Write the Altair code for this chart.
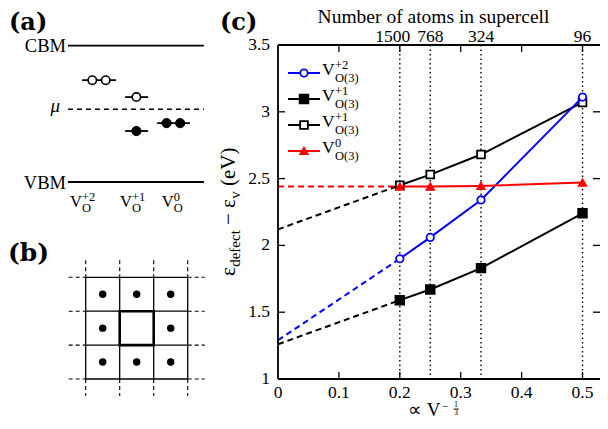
import altair as alt
import pandas as pd

FONT = "Liberation Serif"
BOLD_FONT = "DejaVu Serif"

# ---------------- panel (c) data ----------------
x_cells = [0.2, 0.25, 1 / 3, 0.5]
atoms = ["1500", "768", "324", "96"]
e_v2 = [1.90, 2.06, 2.34, 3.11]
e_v1_filled = [1.59, 1.67, 1.83, 2.24]
e_v1_open = [2.45, 2.53, 2.68, 3.07]
e_v0 = [2.44, 2.44, 2.445, 2.47]
# extrapolated values at infinite supercell (x = 0)
e0_v2 = 1.29
e0_v1_filled = 1.26
e0_v1_open = 2.12
e0_v0 = 2.44

x_ticks = [0, 0.1, 0.2, 0.3, 0.4, 0.5]
x_tick_labels = ["0", "0.1", "0.2", "0.3", "0.4", "0.5"]
y_ticks = [1, 1.5, 2, 2.5, 3, 3.5]
y_tick_labels = ["1", "1.5", "2", "2.5", "3", "3.5"]
XMAX = 0.5287
YMIN, YMAX = 1.0, 3.5

# ---------------- panel (a) data ----------------
band_e = [1.0, 0.0]
mu_e = 0.533
lvl_x1 = [-0.44, 0.70, 0.70, 1.55]
lvl_x2 = [0.46, 1.31, 1.31, 2.42]
lvl_e = [0.747, 0.623, 0.374, 0.432]
circ_x = [-0.17, 0.186, 1.0, 1.0, 1.80, 2.16]
circ_e = [0.747, 0.747, 0.623, 0.374, 0.432, 0.432]
circ_filled = [False, False, False, True, True, True]
col_sup = ["+2", "+1", "0"]

# ---------------- panel (b) data ----------------
grid_idx = [0, 1, 2, 3]

# ---------------- scales ----------------
xs = alt.Scale(domain=[0, XMAX], nice=False, zero=False)
ys = alt.Scale(domain=[YMIN, YMAX], nice=False, zero=False)


def X(f="x"):
    return alt.X(f"{f}:Q", scale=xs, axis=None)


def Y(f="y"):
    return alt.Y(f"{f}:Q", scale=ys, axis=None)


def T(s, x, y, size=17.5, align="left", angle=0, dx=0, dy=0, weight="normal",
      style="normal", font=FONT, baseline="alphabetic"):
    return alt.Chart(pd.DataFrame({"t": [s]})).mark_text(
        font=font, fontSize=size, align=align, baseline=baseline, angle=angle, dx=dx, dy=dy,
        fontWeight=weight, fontStyle=style, color="black"
    ).encode(text="t:N", x=alt.value(x), y=alt.value(y))


def series(ys_, y0, color, shape, filled, size):
    df = pd.DataFrame({"x": x_cells, "y": ys_})
    dfd = pd.DataFrame({"x": [0.0, x_cells[0]], "y": [y0, ys_[0]]})
    dash = alt.Chart(dfd).mark_line(color=color, strokeWidth=2, strokeDash=[6, 4]).encode(X(), Y())
    line = alt.Chart(df).mark_line(color=color, strokeWidth=2).encode(X(), Y())
    pts = alt.Chart(df).mark_point(shape=shape, filled=True, fill=color if filled else "white",
                                   stroke=color, strokeWidth=1.8, size=size, opacity=1).encode(X(), Y())
    return [dash, line, pts]


layers_c = []
# dotted vertical lines
layers_c.append(alt.Chart(pd.DataFrame({"x": x_cells})).mark_rule(
    color="black", strokeWidth=1.4, strokeDash=[1.5, 3]).encode(X()))
layers_c += series(e_v1_open, e0_v1_open, "black", "square", False, 60)
layers_c += series(e_v1_filled, e0_v1_filled, "black", "square", True, 75)
layers_c += series(e_v2, e0_v2, "#0000ff", "circle", False, 55)
layers_c += series(e_v0, e0_v0, "#ff0000", "triangle-up", True, 55)

# frame (left, bottom, top; the right side lies beyond the picture edge)
frame_v = pd.DataFrame({"x": [0.0], "y": [YMIN], "y2": [YMAX]})
frame_h = pd.DataFrame({"x": [0.0, 0.0], "x2": [XMAX, XMAX], "y": [YMIN, YMAX]})
layers_c.append(alt.Chart(frame_v).mark_rule(color="black", strokeWidth=1.8).encode(X(), Y(), y2="y2:Q"))
layers_c.append(alt.Chart(frame_h).mark_rule(color="black", strokeWidth=1.8).encode(X(), Y(), x2="x2:Q"))

# inward ticks
tick_x = pd.DataFrame({"x": x_ticks[1:] * 2, "y": [YMIN] * 5 + [YMAX] * 5})
tick_y = pd.DataFrame({"x": [0.0] * 4 + [XMAX] * 4, "y": y_ticks[1:-1] * 2})
layers_c.append(alt.Chart(tick_x).mark_tick(orient="vertical", size=14, thickness=1.3,
                                            color="black", clip=True, opacity=1).encode(X(), Y()))
layers_c.append(alt.Chart(tick_y).mark_tick(orient="horizontal", size=14, thickness=1.3,
                                            color="black", clip=True, opacity=1).encode(X(), Y()))

# tick labels (bottom and left), placed through the scales
xl = pd.DataFrame({"x": x_ticks, "t": x_tick_labels})
yl = pd.DataFrame({"y": y_ticks, "t": y_tick_labels})
layers_c.append(alt.Chart(xl).mark_text(font=FONT, fontSize=17.5, baseline="alphabetic",
                                        color="black").encode(X(), y=alt.value(353), text="t:N"))
layers_c.append(alt.Chart(yl).mark_text(font=FONT, fontSize=17.5, baseline="middle", align="right",
                                        color="black", dx=-8).encode(Y(), x=alt.value(0), text="t:N"))

# top axis labels
top_df = pd.DataFrame({"x": x_cells, "t": atoms})
layers_c.append(alt.Chart(top_df).transform_filter("datum.t != '1500'").mark_text(
    font=FONT, fontSize=17.5, baseline="alphabetic", color="black").encode(
    X(), y=alt.value(-3.5), text="t:N"))
layers_c.append(alt.Chart(top_df).transform_filter("datum.t == '1500'").mark_text(
    font=FONT, fontSize=17.5, baseline="alphabetic", color="black", dx=-7).encode(
    X(), y=alt.value(-3.5), text="t:N"))
layers_c.append(T("Number of atoms in supercell", 155.5, -22.5, size=19.5, align="center"))

# legend
leg = [("#0000ff", "circle", False, 55, "+2"), ("black", "square", True, 75, "+1"),
       ("black", "square", False, 60, "+1"), ("#ff0000", "triangle-up", True, 55, "0")]
for i, (c, shp, fl, sz, sup) in enumerate(leg):
    ly = 28 + 26 * i
    layers_c.append(alt.Chart(pd.DataFrame({"a": [0]})).mark_rule(color=c, strokeWidth=2).encode(
        x=alt.value(10), x2=alt.value(42), y=alt.value(ly)))
    layers_c.append(alt.Chart(pd.DataFrame({"a": [0]})).mark_point(
        shape=shp, filled=True, fill=c if fl else "white", stroke=c, strokeWidth=1.8, size=sz,
        opacity=1).encode(x=alt.value(26), y=alt.value(ly)))
    layers_c.append(T("V", 44, ly + 2, size=17.5))
    layers_c.append(T(sup, 57, ly - 4.5, size=12.5))
    layers_c.append(T("O(3)", 57, ly + 9, size=12.5))

# y title (rotated, composed)
YT_X, YT_Y = -43, 231
layers_c.append(T("ε", YT_X, YT_Y, size=21, angle=270))
layers_c.append(T("defect", YT_X, YT_Y, size=15, angle=270, dx=9.2, dy=4.5))
layers_c.append(T("−", YT_X, YT_Y, size=21, angle=270, dx=51))
layers_c.append(T("ε", YT_X, YT_Y, size=21, angle=270, dx=68))
layers_c.append(T("v", YT_X, YT_Y, size=15, angle=270, dx=77.3, dy=4.5))
layers_c.append(T("(eV)", YT_X, YT_Y, size=21, angle=270, dx=90))

# x title
layers_c.append(T("∝", 129.7, 371, size=19))
layers_c.append(T("V", 148.7, 371, size=19))
layers_c.append(T("−", 164, 364.5, size=12))
layers_c.append(T("1", 176, 362, size=8))
layers_c.append(T("3", 176, 370, size=8))
layers_c.append(alt.Chart(pd.DataFrame({"a": [0]})).mark_rule(color="black", strokeWidth=0.8).encode(
    x=alt.value(175.5), x2=alt.value(181), y=alt.value(364)))

# panel letters
layers_c.append(T("(a)", -269, -15.5, size=24, weight="bold", font=BOLD_FONT))
layers_c.append(T("(b)", -270, 216, size=25, weight="bold", font=BOLD_FONT))
layers_c.append(T("(c)", -58, -15, size=24, weight="bold", font=BOLD_FONT))

# panel (a) text
layers_c.append(T("CBM", -212, 7, size=18.5, align="right"))
layers_c.append(T("VBM", -212, 143.5, size=18.5, align="right"))
layers_c.append(T("μ", -218, 66.5, size=19, align="right", style="italic"))
for px, sup in zip([-208, -158, -116.3], col_sup):
    layers_c.append(T("V", px, 161.7, size=16.5))
    layers_c.append(T(sup, px + 12, 155.5, size=12.5))
    layers_c.append(T("O", px + 12, 166.7, size=12.5))

chart_c = alt.layer(*layers_c)

# ---------------- panel (a) marks ----------------
xa = alt.Scale(domain=[0, 2], range=[-179.3, -103.9], nice=False, zero=False)
ya = alt.Scale(domain=[0, 1], range=[137, 0.7], nice=False, zero=False)
band_df = pd.DataFrame({"x1": [-0.815, -0.815], "x2": [2.79, 2.79], "e": band_e})
mu_df = pd.DataFrame({"x1": [-0.815], "x2": [2.79], "e": [mu_e]})
lvl_df = pd.DataFrame({"x1": lvl_x1, "x2": lvl_x2, "e": lvl_e})
circ_df = pd.DataFrame({"x": circ_x, "e": circ_e, "f": circ_filled})

XA1 = alt.X("x1:Q", scale=xa, axis=None)
YA = alt.Y("e:Q", scale=ya, axis=None)
chart_a = alt.layer(
    alt.Chart(band_df).mark_rule(color="black", strokeWidth=1.8).encode(XA1, x2="x2:Q", y=YA),
    alt.Chart(mu_df).mark_rule(color="black", strokeWidth=1.5, strokeDash=[5, 4]).encode(XA1, x2="x2:Q", y=YA),
    alt.Chart(lvl_df).mark_rule(color="black", strokeWidth=1.8).encode(XA1, x2="x2:Q", y=YA),
    alt.Chart(circ_df).transform_filter("!datum.f").mark_point(
        shape="circle", filled=True, fill="white", stroke="black", strokeWidth=1.6, size=70, opacity=1
    ).encode(alt.X("x:Q", scale=xa, axis=None), YA),
    alt.Chart(circ_df).transform_filter("datum.f").mark_point(
        shape="circle", filled=True, fill="black", stroke="black", strokeWidth=1, size=85, opacity=1
    ).encode(alt.X("x:Q", scale=xa, axis=None), YA),
)

# ---------------- panel (b) marks ----------------
xb = alt.Scale(domain=[0, 3], range=[-192.3, -90.3], nice=False, zero=False)
yb = alt.Scale(domain=[0, 3], range=[232.3, 334], nice=False, zero=False)
solid_v = pd.DataFrame({"x": grid_idx, "y": [0] * 4, "y2": [3] * 4})
dash_v = pd.DataFrame({"x": grid_idx * 2, "y": [-0.5] * 4 + [3] * 4, "y2": [0] * 4 + [3.5] * 4})
solid_h = pd.DataFrame({"y": grid_idx, "x": [0] * 4, "x2": [3] * 4})
dash_h = pd.DataFrame({"y": grid_idx * 2, "x": [-0.5] * 4 + [3] * 4, "x2": [0] * 4 + [3.5] * 4})
dots = pd.DataFrame([{"x": i + 0.5, "y": j + 0.5} for j in range(3) for i in range(3) if not (i == 1 and j == 1)])
center = pd.DataFrame({"x": [1], "x2": [2], "y": [1], "y2": [2]})
XB = alt.X("x:Q", scale=xb, axis=None)
YB = alt.Y("y:Q", scale=yb, axis=None)
chart_b = alt.layer(
    alt.Chart(solid_v).mark_rule(color="black", strokeWidth=1.3).encode(XB, YB, y2="y2:Q"),
    alt.Chart(dash_v).mark_rule(color="black", strokeWidth=1.1, strokeDash=[4, 3]).encode(XB, YB, y2="y2:Q"),
    alt.Chart(solid_h).mark_rule(color="black", strokeWidth=1.3).encode(XB, YB, x2="x2:Q"),
    alt.Chart(dash_h).mark_rule(color="black", strokeWidth=1.1, strokeDash=[4, 3]).encode(XB, YB, x2="x2:Q"),
    alt.Chart(center).mark_rect(filled=False, stroke="black", strokeWidth=2.6).encode(XB, YB, x2="x2:Q", y2="y2:Q"),
    alt.Chart(dots).mark_circle(color="black", size=55, opacity=1).encode(XB, YB),
)

chart = alt.layer(chart_c, chart_a, chart_b).resolve_scale(
    x="independent", y="independent"
).properties(
    width=322, height=334,
    padding={"left": 270, "top": 37, "right": 0, "bottom": 40},
    autosize=alt.AutoSizeParams(type="none"),
).configure_view(strokeWidth=0).configure(background="white")

chart.save("out.html", embed_options={"renderer": "svg", "actions": False})
